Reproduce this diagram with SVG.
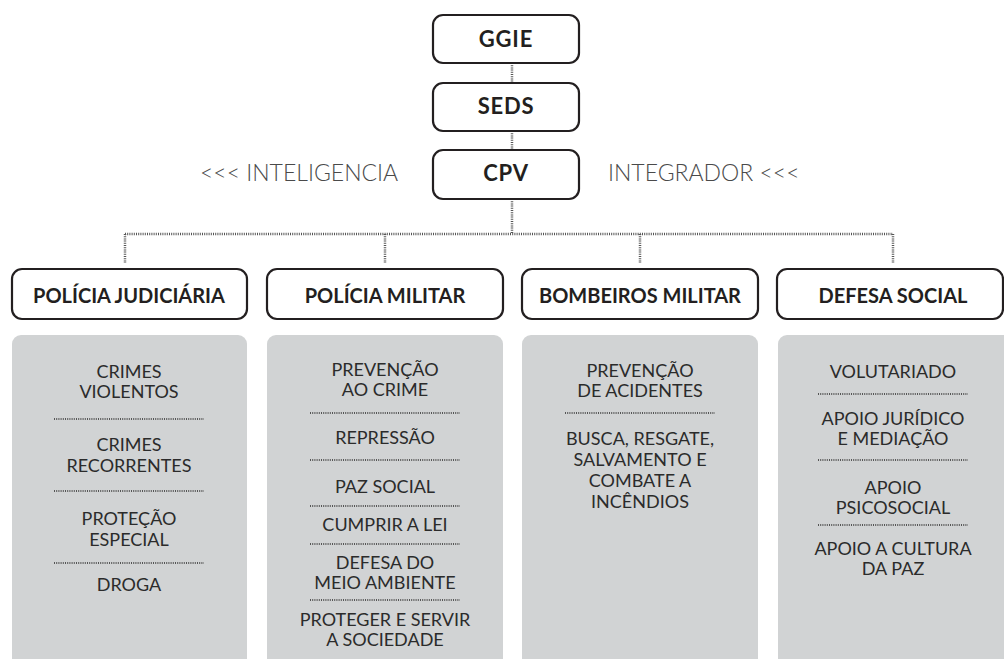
<svg xmlns="http://www.w3.org/2000/svg" width="1004" height="659" viewBox="0 0 1004 659">
<style>
.box{fill:#fff;stroke:#231f20;stroke-width:2.2}
.panel{fill:#d1d3d4}
.hd{font-family:Lato,"Open Sans",sans-serif;font-weight:700;font-size:20px;fill:#231f20;text-anchor:middle}
.top{font-family:Lato,"Open Sans",sans-serif;font-weight:700;font-size:22px;letter-spacing:0.8px;fill:#231f20;text-anchor:middle}
.it{font-family:Lato,"Open Sans",sans-serif;font-size:18px;fill:#2b2b2b;text-anchor:middle}
.side{font-family:Lato,"Open Sans",sans-serif;font-weight:300;font-size:23px;fill:#4a4a4a}
.dot{stroke:#555;stroke-width:2.5;stroke-dasharray:1 1.2;fill:none}
.sep{stroke:#555;stroke-width:2;stroke-dasharray:1 1.2;fill:none}
</style>
<rect width="1004" height="659" fill="#fff"/>
<g id="connectors">
<path class="dot" d="M512 63V82M512 131V149M512 199V234M125 234H893M125 234V263M385 234V263M640 234V263M893 234V263"/>
</g>
<g id="ggie"><rect class="box" x="433" y="15" width="146" height="48" rx="10"/><text class="top" x="506" y="47">GGIE</text></g>
<g id="seds"><rect class="box" x="433" y="83" width="146" height="48" rx="10"/><text class="top" x="506" y="114">SEDS</text></g>
<g id="cpv"><rect class="box" x="433" y="150" width="146" height="49" rx="10"/><text class="top" x="506" y="181">CPV</text></g>
<text class="side" x="200" y="181">&lt;&lt;&lt; INTELIGENCIA</text>
<text class="side" x="608" y="181">INTEGRADOR &lt;&lt;&lt;</text>

<g id="pj">
<rect class="box" x="12" y="269" width="235" height="50" rx="10"/>
<text class="hd" x="129" y="303">POLÍCIA JUDICIÁRIA</text>
</g>
<g id="pj-panel">
<rect class="panel" x="12" y="335" width="235" height="340" rx="9"/>
<text class="it" x="129" y="378">CRIMES</text>
<text class="it" x="129" y="398">VIOLENTOS</text>
<path class="sep" d="M54 419H204"/>
<text class="it" x="129" y="451">CRIMES</text>
<text class="it" x="129" y="472">RECORRENTES</text>
<path class="sep" d="M54 491H204"/>
<text class="it" x="129" y="525">PROTEÇÃO</text>
<text class="it" x="129" y="546">ESPECIAL</text>
<path class="sep" d="M54 563H204"/>
<text class="it" x="129" y="591">DROGA</text>
</g>

<g id="pm">
<rect class="box" x="267" y="269" width="236" height="50" rx="10"/>
<text class="hd" x="385" y="303">POLÍCIA MILITAR</text>
</g>
<g id="pm-panel">
<rect class="panel" x="267" y="335" width="236" height="340" rx="9"/>
<text class="it" x="385" y="376">PREVENÇÃO</text>
<text class="it" x="385" y="396">AO CRIME</text>
<path class="sep" d="M310 413H460"/>
<text class="it" x="385" y="444">REPRESSÃO</text>
<path class="sep" d="M310 460H460"/>
<text class="it" x="385" y="493">PAZ SOCIAL</text>
<path class="sep" d="M310 506H460"/>
<text class="it" x="385" y="531">CUMPRIR A LEI</text>
<path class="sep" d="M310 544H460"/>
<text class="it" x="385" y="569">DEFESA DO</text>
<text class="it" x="385" y="589">MEIO AMBIENTE</text>
<path class="sep" d="M310 600H460"/>
<text class="it" x="385" y="626">PROTEGER E SERVIR</text>
<text class="it" x="385" y="646">A SOCIEDADE</text>
</g>

<g id="bm">
<rect class="box" x="522" y="269" width="236" height="50" rx="10"/>
<text class="hd" x="640" y="303">BOMBEIROS MILITAR</text>
</g>
<g id="bm-panel">
<rect class="panel" x="522" y="335" width="236" height="340" rx="9"/>
<text class="it" x="640" y="377">PREVENÇÃO</text>
<text class="it" x="640" y="397">DE ACIDENTES</text>
<path class="sep" d="M565 413H715"/>
<text class="it" x="640" y="445">BUSCA, RESGATE,</text>
<text class="it" x="640" y="466">SALVAMENTO E</text>
<text class="it" x="640" y="487">COMBATE A</text>
<text class="it" x="640" y="508">INCÊNDIOS</text>
</g>

<g id="ds">
<rect class="box" x="777" y="269" width="226" height="50" rx="10"/>
<text class="hd" x="893" y="303">DEFESA SOCIAL</text>
</g>
<g id="ds-panel">
<rect class="panel" x="778" y="335" width="240" height="340" rx="9"/>
<text class="it" x="893" y="378">VOLUTARIADO</text>
<path class="sep" d="M818 394H968"/>
<text class="it" x="893" y="425">APOIO JURÍDICO</text>
<text class="it" x="893" y="445">E MEDIAÇÃO</text>
<path class="sep" d="M818 460H968"/>
<text class="it" x="893" y="494">APOIO</text>
<text class="it" x="893" y="514">PSICOSOCIAL</text>
<path class="sep" d="M818 525H968"/>
<text class="it" x="893" y="555">APOIO A CULTURA</text>
<text class="it" x="893" y="575">DA PAZ</text>
</g>
</svg>
